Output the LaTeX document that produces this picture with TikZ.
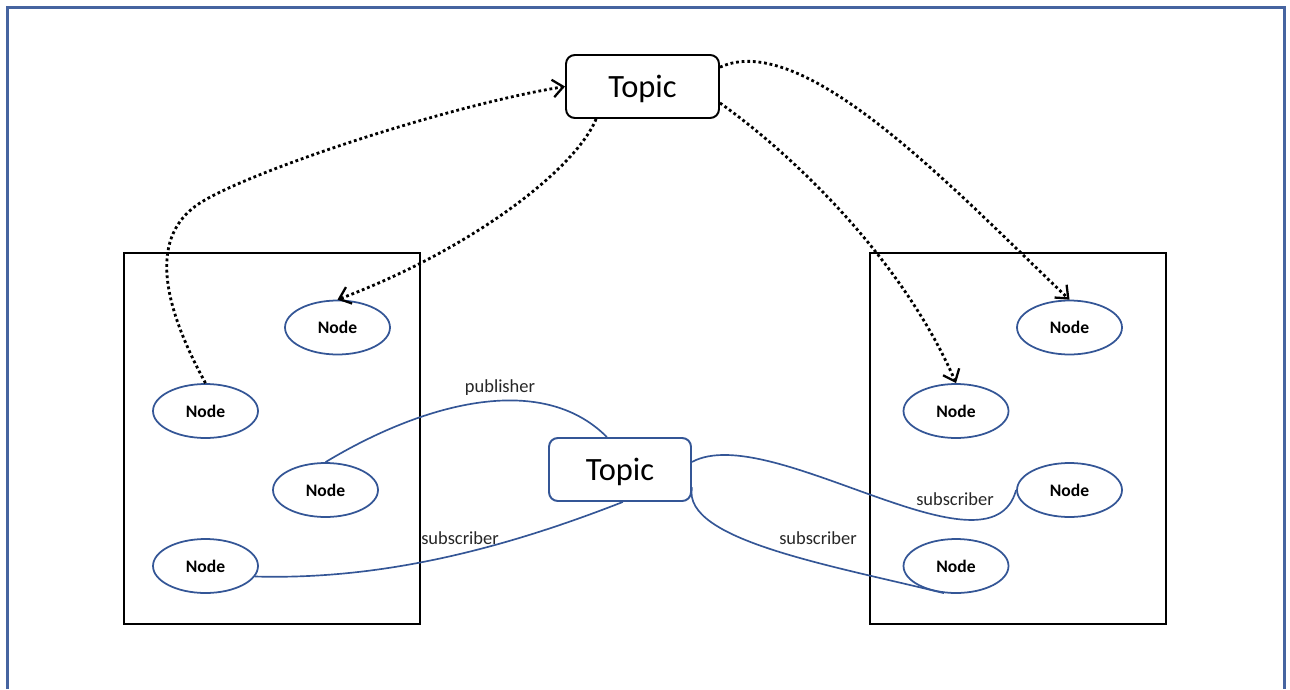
\documentclass[tikz,border=0pt]{standalone}
\usepackage{fontspec}
\setmainfont{Carlito}
\usetikzlibrary{arrows.meta,shapes.geometric}
\definecolor{nodeblue}{RGB}{52,86,150}
\definecolor{framecol}{RGB}{70,100,160}

\begin{document}
\begin{tikzpicture}[
    x=0.02cm, y=-0.02cm,
    every node/.style={align=center},
    topic/.style={rectangle, rounded corners=5pt, line width=1.1pt, minimum height=1.26cm, inner sep=0pt, text depth=0pt, font=\fontsize{18.5}{20}\selectfont},
    member/.style={ellipse, draw=nodeblue, line width=1pt, minimum width=2.1cm, minimum height=1.08cm, inner sep=0pt, font=\fontsize{10}{12}\selectfont\bfseries},
    host/.style={rectangle, draw=black, line width=1.1pt, minimum width=5.92cm, minimum height=7.42cm, inner sep=0pt},
    lbl/.style={font=\fontsize{10.5}{12}\selectfont, text=black!85, inner sep=0pt},
    dotarr/.style={line width=1.6pt, dash pattern=on 1.6pt off 1.6pt, -{Straight Barb[length=6pt,width=10pt,line width=1.3pt]}},
    bluelink/.style={draw=nodeblue, line width=0.95pt}
]
\useasboundingbox (0,0) rectangle (1290,689);
\draw[framecol, line width=1.4pt] (7.5,689) -- (7.5,7.5) -- (1284.5,7.5) -- (1284.5,689);

\node[host] (hostL) at (272,438.5) {};
\node[host] (hostR) at (1018,438.5) {};

\node[topic, draw=black, minimum width=3.06cm] (topA) at (642.5,86.5) {Topic};
\node[topic, draw=nodeblue, minimum width=2.84cm] (topB) at (620,469.5) {Topic};

\node[member] (L1) at (337.5,327.5) {Node};
\node[member] (L2) at (205.5,411) {Node};
\node[member] (L3) at (325.5,490) {Node};
\node[member] (L4) at (205.5,566) {Node};
\node[member] (R1) at (1069.5,327.5) {Node};
\node[member] (R2) at (956,411) {Node};
\node[member] (R3) at (1069.5,490) {Node};
\node[member] (R4) at (956,566) {Node};

\draw[dotarr] (L2.north) .. controls (160,300) and (150,235) .. (200,203)
    .. controls (250,171) and (450,105) .. (topA.west);
\draw[dotarr] (topA.215) .. controls (575,170) and (470,250) .. (L1.north);
\draw[dotarr] (topA.-12) .. controls (800,160) and (905,265) .. (R2.north);
\draw[dotarr] (topA.14) .. controls (805,28) and (960,196) .. (R1.north);

\draw[bluelink] (L3.north) .. controls (420,405) and (540,370) .. (topB.112);
\draw[bluelink] (L4.-12) .. controls (380,580) and (500,550) .. (topB.-85);
\draw[bluelink] (topB.6) .. controls (770,420) and (990,585) .. (R3.west);
\draw[bluelink] (topB.-14) .. controls (682,540) and (830,565) .. (R4.-114);

\node[lbl] (pubL) at (500,388) {publisher};
\node[lbl] (subL) at (460,538) {subscriber};
\node[lbl] (subR3) at (955,499) {subscriber};
\node[lbl] (subR4) at (818,538) {subscriber};
\end{tikzpicture}
\end{document}
